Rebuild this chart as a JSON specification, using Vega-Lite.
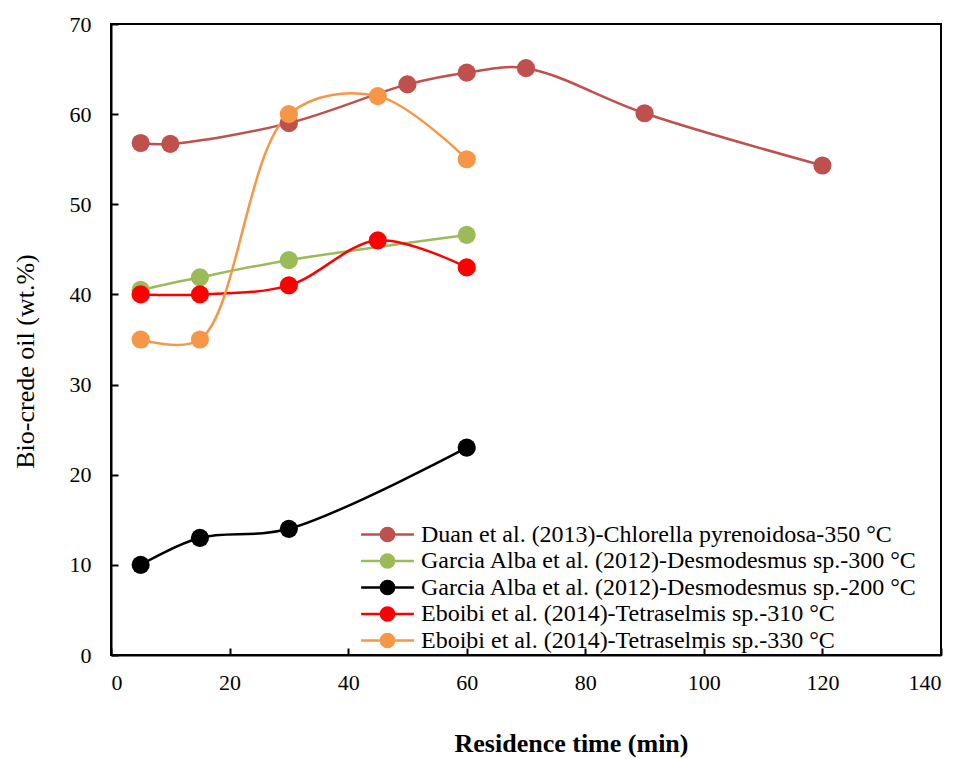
{
  "$schema": "https://vega.github.io/schema/vega-lite/v6.json",
  "autosize": {"type": "none"},
  "padding": {"left": 111, "top": 24, "right": 20, "bottom": 104},
  "width": 830,
  "height": 631,
  "background": "white",
  "config": {
    "font": "Liberation Serif",
    "view": {"stroke": "black", "strokeWidth": 2},
    "axis": {
      "grid": false,
      "domainColor": "black",
      "domainWidth": 2,
      "tickColor": "black",
      "tickWidth": 2,
      "tickSize": -7,
      "labelFont": "Liberation Serif",
      "labelColor": "black",
      "titleFont": "Liberation Serif",
      "titleColor": "black"
    }
  },
  "data": {
    "values": [
      {"series": "Duan et al. (2013)-Chlorella pyrenoidosa-350 °C", "time": 5, "oil": 56.8},
      {"series": "Duan et al. (2013)-Chlorella pyrenoidosa-350 °C", "time": 10, "oil": 56.7},
      {"series": "Duan et al. (2013)-Chlorella pyrenoidosa-350 °C", "time": 30, "oil": 59.0},
      {"series": "Duan et al. (2013)-Chlorella pyrenoidosa-350 °C", "time": 50, "oil": 63.3},
      {"series": "Duan et al. (2013)-Chlorella pyrenoidosa-350 °C", "time": 60, "oil": 64.6},
      {"series": "Duan et al. (2013)-Chlorella pyrenoidosa-350 °C", "time": 70, "oil": 65.1},
      {"series": "Duan et al. (2013)-Chlorella pyrenoidosa-350 °C", "time": 90, "oil": 60.1},
      {"series": "Duan et al. (2013)-Chlorella pyrenoidosa-350 °C", "time": 120, "oil": 54.3},
      {"series": "Garcia Alba et al. (2012)-Desmodesmus sp.-300 °C", "time": 5, "oil": 40.5},
      {"series": "Garcia Alba et al. (2012)-Desmodesmus sp.-300 °C", "time": 15, "oil": 41.9},
      {"series": "Garcia Alba et al. (2012)-Desmodesmus sp.-300 °C", "time": 30, "oil": 43.8},
      {"series": "Garcia Alba et al. (2012)-Desmodesmus sp.-300 °C", "time": 60, "oil": 46.6},
      {"series": "Garcia Alba et al. (2012)-Desmodesmus sp.-200 °C", "time": 5, "oil": 10},
      {"series": "Garcia Alba et al. (2012)-Desmodesmus sp.-200 °C", "time": 15, "oil": 13},
      {"series": "Garcia Alba et al. (2012)-Desmodesmus sp.-200 °C", "time": 30, "oil": 14},
      {"series": "Garcia Alba et al. (2012)-Desmodesmus sp.-200 °C", "time": 60, "oil": 23},
      {"series": "Eboibi et al. (2014)-Tetraselmis sp.-310 °C", "time": 5, "oil": 40},
      {"series": "Eboibi et al. (2014)-Tetraselmis sp.-310 °C", "time": 15, "oil": 40},
      {"series": "Eboibi et al. (2014)-Tetraselmis sp.-310 °C", "time": 30, "oil": 41},
      {"series": "Eboibi et al. (2014)-Tetraselmis sp.-310 °C", "time": 45, "oil": 46},
      {"series": "Eboibi et al. (2014)-Tetraselmis sp.-310 °C", "time": 60, "oil": 43},
      {"series": "Eboibi et al. (2014)-Tetraselmis sp.-330 °C", "time": 5, "oil": 35},
      {"series": "Eboibi et al. (2014)-Tetraselmis sp.-330 °C", "time": 15, "oil": 35},
      {"series": "Eboibi et al. (2014)-Tetraselmis sp.-330 °C", "time": 30, "oil": 60},
      {"series": "Eboibi et al. (2014)-Tetraselmis sp.-330 °C", "time": 45, "oil": 62},
      {"series": "Eboibi et al. (2014)-Tetraselmis sp.-330 °C", "time": 60, "oil": 55}
    ]
  },
  "encoding": {
    "x": {
      "field": "time", "type": "quantitative",
      "scale": {"domain": [0, 140], "nice": false},
      "axis": {"values": [0, 20, 40, 60, 80, 100, 120, 140], "title": "Residence time (min)", "titleFontSize": 26, "titleFontWeight": "bold", "titlePadding": 37, "titleX": 460, "labelFontSize": 22, "labelPadding": 24}
    },
    "y": {
      "field": "oil", "type": "quantitative",
      "scale": {"domain": [0, 70], "nice": false},
      "axis": {"values": [0, 10, 20, 30, 40, 50, 60, 70], "title": "Bio-crede oil (wt.%)", "titleFontSize": 26, "titleFontWeight": "normal", "titlePadding": 31, "titleY": 337, "labelFontSize": 22, "labelPadding": 27}
    },
    "color": {
      "field": "series", "type": "nominal",
      "scale": {
        "domain": [
          "Duan et al. (2013)-Chlorella pyrenoidosa-350 °C",
          "Garcia Alba et al. (2012)-Desmodesmus sp.-300 °C",
          "Garcia Alba et al. (2012)-Desmodesmus sp.-200 °C",
          "Eboibi et al. (2014)-Tetraselmis sp.-310 °C",
          "Eboibi et al. (2014)-Tetraselmis sp.-330 °C"
        ],
        "range": ["#C0504D", "#9BBB59", "#000000", "#FF0000", "#F79646"]
      },
      "legend": {
        "title": null,
        "orient": "none",
        "legendX": 263,
        "legendY": 497,
        "labelFontSize": 24,
        "labelFont": "Liberation Serif",
        "labelColor": "black",
        "labelLimit": 0,
        "symbolType": "M -2.2 0 L 2.2 0 M -0.55 0 A 0.55 0.55 0 1 1 0.55 0 A 0.55 0.55 0 1 1 -0.55 0 Z",
        "symbolSize": 576,
        "symbolStrokeWidth": 2.5,
        "labelOffset": 20,
        "rowPadding": 0.5,
        "padding": 0
      }
    }
  },
  "layer": [
    {
      "mark": {"type": "line", "interpolate": "catmull-rom", "strokeWidth": 2.5}
    },
    {
      "mark": {"type": "point", "shape": "circle", "filled": true, "opacity": 1, "size": 330}
    }
  ]
}
